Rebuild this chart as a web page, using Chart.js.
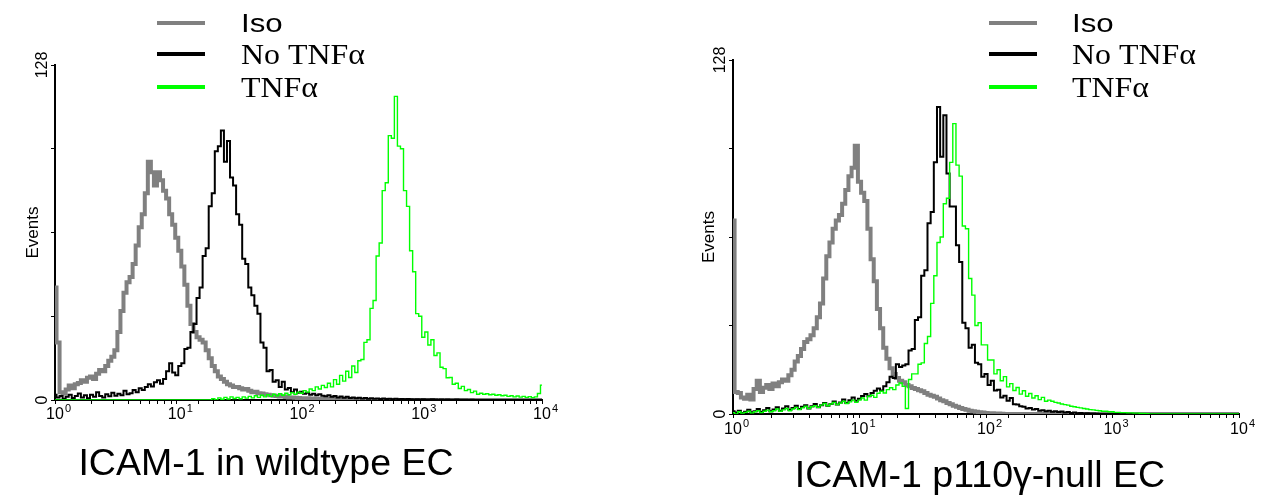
<!DOCTYPE html>
<html>
<head>
<meta charset="utf-8">
<title>ICAM-1 flow cytometry</title>
<script src="https://cdn.jsdelivr.net/npm/chart.js@4.4.1/dist/chart.umd.min.js"></script>
<style>
  html, body { margin: 0; padding: 0; background: #fff; width: 1264px; height: 499px; overflow: hidden; }
  canvas { position: absolute; top: 0; }
  #wt { left: 0; }
  #null { left: 632px; }
</style>
</head>
<body>
<canvas id="wt" width="632" height="499"></canvas>
<canvas id="null" width="632" height="499"></canvas>
<script>
// Histogram channels: 40 bins per decade over 10^0 .. 10^4 (161 bin centres)
const binsPerDecade = 40;
const decades = [0, 1, 2, 3, 4];
const yTickLabels = [0, 128];
const seriesNames = ['Iso', 'No TNF\u03b1', 'TNF\u03b1'];
const seriesColors = ['#808080', '#000000', '#00ff00'];

// ICAM-1 in wildtype EC (events per channel)
const isoWildtype = [
  43, 22, 3, 2.5, 4, 5.5, 4.5, 6, 6.5, 7.5,
  7, 8.5, 9, 8, 10, 11.5, 11, 13, 15, 16.5,
  19, 26, 34, 41, 45, 47, 52, 59, 66, 71,
  79, 91, 87, 82, 87, 84, 80, 77, 71, 67,
  62, 57, 51, 44, 36, 29, 26, 24, 23, 22,
  19, 16, 13, 11, 9, 8, 7, 6, 5.5, 5,
  5, 4.5, 4, 4.2, 3.5, 3, 3.2, 2.6, 2.5, 2.2,
  2, 1.8, 1.6, 1.5, 1.3, 1.4, 1.1, 1, 1, 0.9,
  0.8, 0.7, 0.6, 0.7, 0.5, 0.6, 0.5, 0.4, 0.5, 0.4,
  0.3, 0.4, 0.3, 0.3, 0.2, 0.3, 0.2, 0.2, 0.1, 0.2,
  0, 0, 0, 0, 0, 0, 0, 0, 0, 0,
  0, 0, 0, 0, 0, 0, 0, 0, 0, 0,
  0, 0, 0, 0, 0, 0, 0, 0, 0, 0,
  0, 0, 0, 0, 0, 0, 0, 0, 0, 0,
  0, 0, 0, 0, 0, 0, 0, 0, 0, 0,
  0, 0, 0, 0, 0, 0, 0, 0, 0, 0,
  0
];
const noTnfWildtype = [
  2, 1, 1.5, 0.5, 1.2, 2, 0.8, 1.5, 2.5, 1,
  1.8, 0.7, 2, 1.2, 3, 1.5, 1, 2.2, 1.4, 2.8,
  1.6, 2.4, 1.8, 3.5, 2.2, 2.6, 3.8, 3, 4.5, 3.8,
  5, 6, 5.2, 6.8, 7.5, 6.2, 8, 11, 14, 10.5,
  9.5, 13, 14, 19.5, 20, 26, 29, 39, 43, 55,
  58, 74, 79, 95, 97, 103, 91, 99, 85, 82,
  71, 67, 54, 52, 43, 40, 36, 33, 22, 20,
  11, 11.5, 7, 7.5, 5, 7, 4, 4.6, 3, 4,
  2.8, 3.2, 2.4, 2.8, 2, 2.4, 1.8, 2.2, 1.6, 1.4,
  1.8, 1.2, 1.5, 1, 1.3, 0.9, 1.2, 0.8, 1, 0.7,
  0.9, 0.6, 0.8, 0.5, 0.7, 0.5, 0.6, 0.4, 0.6, 0.4,
  0.5, 0.3, 0.5, 0.3, 0.4, 0.3, 0.4, 0.3, 0.2, 0.3,
  0.2, 0.3, 0.2, 0.2, 0.3, 0.2, 0.1, 0.2, 0.1, 0.2,
  0.1, 0.1, 0.2, 0.1, 0.1, 0.1, 0, 0.1, 0, 0,
  0, 0, 0, 0, 0, 0, 0, 0, 0, 0,
  0, 0, 0, 0, 0, 0, 0, 0, 0, 0,
  0
];
const tnfWildtype = [
  0, 0, 0, 0, 0, 0, 0, 0, 0, 0,
  0, 0, 0, 0, 0, 0, 0, 0, 0, 0,
  0, 0, 0, 0, 0, 0, 0, 0, 0, 0,
  0, 0, 0, 0, 0, 0, 0, 0, 0, 0,
  0, 0, 0, 0, 0, 0, 0, 0, 0, 0,
  0, 0, 0.5, 0, 0.8, 0.3, 1, 0.4, 1.2, 0.6,
  1, 0.5, 1.2, 0.7, 1.4, 0.8, 1.6, 1, 1.8, 1.2,
  2, 1.4, 2.2, 1.6, 2.4, 1.8, 2.6, 2, 2.8, 2.2,
  3, 2.6, 3.6, 3, 4.2, 3.6, 5, 4.2, 5.6, 4.8,
  6.4, 5, 7.8, 6, 9.4, 7.2, 11, 8.6, 13, 10.5,
  15, 15.5, 22, 23, 35, 38, 55, 60, 80, 83,
  101, 100, 116, 97, 96, 80, 74, 57, 49, 33,
  32, 24, 26, 21, 23, 17, 18, 12.5, 12, 8.5,
  8.6, 6, 6.4, 4.4, 5.2, 3.6, 4, 2.8, 3.4, 2.2,
  2.6, 2.2, 2.4, 2, 2.2, 1.8, 2, 1.6, 1.8, 1.4,
  1.6, 1.2, 1.5, 1.1, 1.4, 1, 1.3, 0.9, 1.2, 2.5,
  5.7
];

// ICAM-1 in p110gamma-null EC (events per channel)
const isoNull = [
  70, 8, 7.6, 6, 5.5, 7, 5.2, 9, 12, 8,
  9.5, 10.5, 9, 11, 10, 11.5, 12.5, 12, 14, 16,
  19, 21, 23.5, 26, 27, 28.5, 31, 35, 40, 49,
  57, 62, 67, 70, 72, 76, 81, 86, 89, 97,
  84, 80, 77, 67, 56, 48, 38, 31, 24, 20,
  16.5, 14.5, 13, 12, 11.5, 10.5, 10, 9.4, 9, 8.6,
  8.2, 7.6, 7, 6.6, 6.2, 5.6, 5, 4.6, 4, 3.5,
  3, 2.6, 2.2, 1.8, 1.5, 1.2, 1, 0.8, 0.6, 0.5,
  0.4, 0.3, 0.3, 0.2, 0.2, 0.1, 0, 0, 0, 0,
  0, 0, 0, 0, 0, 0, 0, 0, 0, 0,
  0, 0, 0, 0, 0, 0, 0, 0, 0, 0,
  0, 0, 0, 0, 0, 0, 0, 0, 0, 0,
  0, 0, 0, 0, 0, 0, 0, 0, 0, 0,
  0, 0, 0, 0, 0, 0, 0, 0, 0, 0,
  0, 0, 0, 0, 0, 0, 0, 0, 0, 0,
  0, 0, 0, 0, 0, 0, 0, 0, 0, 0,
  0
];
const noTnfNull = [
  1, 0.5, 1.2, 0.4, 0.8, 1.5, 0.6, 1, 1.8, 0.8,
  1.4, 2.2, 1, 1.6, 2.4, 1.2, 2, 2.8, 1.5, 2.2,
  3, 1.8, 2.6, 3.2, 2, 2.8, 3.6, 2.4, 3.2, 4,
  3, 3.6, 4.5, 3.4, 4.2, 5.2, 4, 5, 6, 4.8,
  5.5, 6.5, 7.2, 6.4, 7.6, 8.4, 9.2, 8.5, 10, 11.5,
  13.5, 13, 18, 17, 17.5, 18, 23, 23.5, 34, 35,
  50, 52, 69, 73, 91, 111, 93, 108, 87, 75,
  75, 61, 55, 33, 31, 24, 25, 18.5, 18, 13.5,
  14.5, 10.5, 12, 8.5, 8.8, 6, 6.6, 4.8, 5.8, 3.5,
  3.4, 2.8, 2.6, 2, 2.2, 1.6, 1.8, 1.2, 1.4, 1,
  1.2, 0.8, 1, 0.7, 0.9, 0.5, 0.7, 0.4, 0.5, 0.3,
  0.4, 0.2, 0.3, 0.2, 0.2, 0.1, 0, 0, 0, 0,
  0, 0, 0, 0, 0, 0, 0, 0, 0, 0,
  0, 0, 0, 0, 0, 0, 0, 0, 0, 0,
  0, 0, 0, 0, 0, 0, 0, 0, 0, 0,
  0, 0, 0, 0, 0, 0, 0, 0, 0, 0,
  0
];
const tnfNull = [
  0.5, 0, 0.8, 0.3, 0.6, 1, 0.4, 0.8, 1.2, 0.5,
  1, 1.4, 0.8, 1.2, 1.8, 1, 1.5, 2, 1.2, 1.8,
  2.4, 1.6, 2.2, 2.8, 2, 2.6, 3, 2.4, 3.2, 3.8,
  3, 3.6, 4.2, 3.4, 4, 4.6, 3.8, 4.4, 5, 4.2,
  5, 5.8, 5, 6.4, 6.8, 6, 7.5, 8.2, 7.6, 8.8,
  9.5, 8.8, 10.5, 11.2, 10, 2, 12.5, 14.5, 14.5, 18,
  18.5, 25.5, 28, 40, 50, 62, 64, 76, 78, 91,
  105, 90, 86, 68, 67, 49, 43, 32, 33, 25,
  25, 19.5, 19.5, 14.5, 16, 12, 13.5, 9.8, 11, 8.5,
  9.6, 7.2, 8.4, 6.4, 7.4, 5.8, 6.6, 5.2, 6, 4.6,
  5, 4.6, 4.2, 4, 3.6, 3.4, 3.2, 2.8, 2.6, 2.4,
  2.2, 2, 1.8, 1.6, 1.5, 1.3, 1.2, 1, 1, 0.8,
  0.8, 0.6, 0.6, 0.5, 0.5, 0.4, 0.4, 0.3, 0.3, 0.2,
  0.2, 0.1, 0, 0, 0, 0, 0, 0, 0, 0,
  0, 0, 0, 0, 0, 0, 0, 0, 0, 0,
  0, 0, 0, 0, 0, 0, 0, 0, 0, 0,
  0
];

const SANS = 'Arial, "Liberation Sans", sans-serif';
const SERIF = '"Times New Roman", "Liberation Serif", serif';

// bin centre on the fluorescence axis for channel i
function toPoints(values) {
  return values.map((v, i) => ({ x: Math.pow(10, i / binsPerDecade), y: v }));
}

// axis labels, legend and caption drawn around the plot area
const decorations = {
  id: 'decorations',
  afterDraw(chart, args, o) {
    const { ctx, chartArea: a, scales: { x, y } } = chart;
    ctx.save();
    ctx.fillStyle = '#000';
    ctx.textBaseline = 'alphabetic';

    // rotated y tick labels
    ctx.font = '16px ' + SANS;
    yTickLabels.forEach(v => {
      ctx.save();
      ctx.translate(a.left - o.yLabelGap, y.getPixelForValue(v));
      ctx.rotate(-Math.PI / 2);
      ctx.textAlign = 'center';
      ctx.fillText(String(v), 0, 0);
      ctx.restore();
    });

    // y axis title
    ctx.save();
    ctx.font = '17px ' + SANS;
    ctx.translate(a.left - o.yTitleGap, (a.top + a.bottom) / 2);
    ctx.rotate(-Math.PI / 2);
    ctx.textAlign = 'center';
    ctx.fillText('Events', 0, 0);
    ctx.restore();

    // decade labels 10^k
    decades.forEach(k => {
      const px = x.getPixelForValue(Math.pow(10, k));
      ctx.font = '16px ' + SANS;
      const w = ctx.measureText('10').width;
      const left = px - w / 2;
      ctx.textAlign = 'left';
      ctx.fillText('10', left, a.bottom + o.xLabelGap);
      ctx.font = '11px ' + SANS;
      ctx.fillText(String(k), left + w + 1, a.bottom + o.xLabelGap - 7);
    });

    // legend
    seriesNames.forEach((name, i) => {
      const ly = o.legendY[i];
      ctx.fillStyle = seriesColors[i];
      ctx.fillRect(o.legendX, ly - 2, o.legendW, 4);
      ctx.fillStyle = '#000';
      ctx.textAlign = 'left';
      ctx.save();
      ctx.translate(o.legendTextX, o.legendBase[i]);
      if (i === 0) {
        ctx.font = '25px ' + SANS;
        ctx.scale(1.25, 1);
      } else {
        ctx.font = '29px ' + SERIF;
        ctx.scale(1.1, 1);
      }
      ctx.fillText(name, 0, 0);
      ctx.restore();
    });

    // caption
    ctx.font = '37.5px ' + SANS;
    ctx.textAlign = 'center';
    ctx.fillText(o.caption, o.captionX, o.captionY);
    ctx.restore();
  }
};

function histogram(id, series, box, deco) {
  const width = 632, height = 499;
  const widths = [4, 2, 1.4];
  return new Chart(document.getElementById(id), {
    type: 'line',
    data: {
      datasets: series.map((vals, i) => ({
        label: seriesNames[i],
        data: toPoints(vals),
        borderColor: seriesColors[i],
        borderWidth: widths[i],
        pointRadius: 0,
        stepped: 'middle',
        fill: false,
        order: 3 - i
      }))
    },
    options: {
      responsive: false,
      animation: false,
      devicePixelRatio: 1,
      layout: { padding: { left: 0, top: box.top, right: width - box.right, bottom: 0 } },
      plugins: {
        legend: { display: false },
        tooltip: { enabled: false },
        decorations: deco
      },
      scales: {
        x: {
          type: 'logarithmic',
          min: 1, max: 10000,
          ticks: { display: false, autoSkip: false },
          grid: { drawOnChartArea: false, drawTicks: true, tickLength: 4, color: '#000', lineWidth: 1 },
          border: { color: '#000', width: 2 },
          afterFit(s) { s.height = height - box.bottom; }
        },
        y: {
          min: 0, max: 128,
          ticks: { display: false, stepSize: 32 },
          grid: { drawOnChartArea: false, drawTicks: true, tickLength: 4, color: '#000', lineWidth: 1 },
          border: { color: '#000', width: 2 },
          afterFit(s) { s.width = box.left; }
        }
      }
    },
    plugins: [decorations]
  });
}

histogram('wt', [isoWildtype, noTnfWildtype, tnfWildtype],
  { left: 55, right: 542, top: 65, bottom: 400 },
  { yLabelGap: 8, yTitleGap: 17, xLabelGap: 19,
    legendX: 157, legendW: 48, legendTextX: 241,
    legendY: [23, 54, 87], legendBase: [32, 64, 97],
    caption: 'ICAM-1 in wildtype EC', captionX: 266, captionY: 475 });

histogram('null', [isoNull, noTnfNull, tnfNull],
  { left: 101, right: 607, top: 60, bottom: 414 },
  { yLabelGap: 8, yTitleGap: 19, xLabelGap: 20,
    legendX: 357, legendW: 48, legendTextX: 440,
    legendY: [23, 54, 87], legendBase: [32, 64, 97],
    caption: 'ICAM-1 p110\u03b3-null EC', captionX: 348, captionY: 487 });
</script>
</body>
</html>
